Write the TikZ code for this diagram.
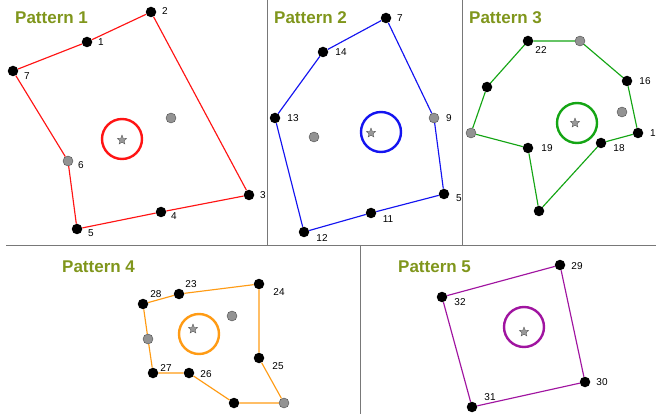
\documentclass[tikz,border=0pt]{standalone}
\usepackage{fontspec}
\setmainfont{Liberation Sans}
\usepackage{tikz}
\usetikzlibrary{shapes.geometric}
\usepackage{xcolor}
\definecolor{olivetitle}{RGB}{128,150,28}
\definecolor{panelgrey}{RGB}{120,120,120}
\definecolor{hullred}{RGB}{255,20,20}
\definecolor{hullblue}{RGB}{20,20,240}
\definecolor{hullgreen}{RGB}{20,165,20}
\definecolor{hullorange}{RGB}{255,155,20}
\definecolor{hullpurple}{RGB}{160,20,160}

\tikzset{
  blackdot/.style={circle,fill=black,inner sep=0pt,minimum size=10.5pt},
  greydot/.style={circle,fill=gray!85,draw=gray!60!black,line width=0.4pt,inner sep=0pt,minimum size=10pt},
  numlabel/.style={font=\fontsize{10}{11}\selectfont,inner sep=0pt},
  patterntitle/.style={font=\fontsize{17}{19}\selectfont\bfseries,text=olivetitle,inner sep=0pt,anchor=west},
  centrestar/.style={star,star points=5,star point ratio=2.3,fill=gray!80,draw=gray!60!black,line width=0.3pt,inner sep=0pt,minimum size=10pt},
  ring/.style={circle,line width=2.4pt,inner sep=0pt,minimum size=40pt},
  edge/.style={line width=1.15pt}
}

\begin{document}
\begin{tikzpicture}[x=1pt,y=-1pt]
        \useasboundingbox (0,0) rectangle (656,414);
        % Panel frames
        \draw[panelgrey,line width=0.8pt] (267,0) -- (267,245);
        \draw[panelgrey,line width=0.8pt] (462,0) -- (462,245);
        \draw[panelgrey,line width=0.8pt] (6,245) -- (656,245);
        \draw[panelgrey,line width=0.8pt] (360,245) -- (360,414);
        % Titles
        \node[patterntitle] (title1) at (15,18) {Pattern 1};
        \node[patterntitle] (title2) at (274,18) {Pattern 2};
        \node[patterntitle] (title3) at (469,18) {Pattern 3};
        \node[patterntitle] (title4) at (62,267) {Pattern 4};
        \node[patterntitle] (title5) at (398,267) {Pattern 5};

        % Pattern 1
        \node[blackdot] (a2) at (151,12) {};
        \node[blackdot] (a1) at (87,42) {};
        \node[blackdot] (a7) at (13,71) {};
        \node[greydot] (a6) at (68,161) {};
        \node[blackdot] (a5) at (77,229) {};
        \node[blackdot] (a4) at (161,212) {};
        \node[blackdot] (a3) at (249,195) {};
        \node[greydot] (ain) at (171,118) {};
        \draw[edge,hullred] (a7) -- (a1) -- (a2) -- (a3) -- (a4) -- (a5) -- (a6) -- (a7);
        \node[ring,draw=hullred] (ringa) at (122,139) {};
        \node[centrestar] (stara) at (122,140) {};
        \node[numlabel] (la2) at (165,11) {2};
        \node[numlabel] (la1) at (101,42) {1};
        \node[numlabel] (la7) at (27,76) {7};
        \node[numlabel] (la6) at (81,165) {6};
        \node[numlabel] (la5) at (91,233) {5};
        \node[numlabel] (la4) at (174,216) {4};
        \node[numlabel] (la3) at (263,195) {3};

        % Pattern 2
        \node[blackdot] (b7) at (386,18) {};
        \node[blackdot] (b14) at (323,52) {};
        \node[blackdot] (b13) at (275,118) {};
        \node[greydot] (bin) at (314,137) {};
        \node[greydot] (b9) at (434,118) {};
        \node[blackdot] (b5) at (444,194) {};
        \node[blackdot] (b11) at (371,213) {};
        \node[blackdot] (b12) at (304,232) {};
        \draw[edge,hullblue] (b7) -- (b14) -- (b13) -- (b12) -- (b11) -- (b5) -- (b9) -- (b7);
        \node[ring,draw=hullblue] (ringb) at (381,132) {};
        \node[centrestar] (starb) at (371,133) {};
        \node[numlabel] (lb7) at (400,18) {7};
        \node[numlabel] (lb14) at (341,52) {14};
        \node[numlabel] (lb13) at (293,118) {13};
        \node[numlabel] (lb9) at (449,118) {9};
        \node[numlabel] (lb5) at (459,198) {5};
        \node[numlabel] (lb11) at (388,219) {11};
        \node[numlabel] (lb12) at (322,238) {12};

        % Pattern 3
        \node[blackdot] (c22) at (528,41) {};
        \node[greydot] (ctop) at (580,41) {};
        \node[blackdot] (c16) at (627,81) {};
        \node[greydot] (cin) at (622,112) {};
        \node[blackdot] (c1) at (638,133) {};
        \node[blackdot] (c18) at (601,143) {};
        \node[blackdot] (cbot) at (539,211) {};
        \node[blackdot] (c19) at (528,148) {};
        \node[greydot] (cgl) at (471,133) {};
        \node[blackdot] (cbl) at (487,87) {};
        \draw[edge,hullgreen] (c22) -- (ctop) -- (c16) -- (c1) -- (c18) -- (cbot) -- (c19) -- (cgl) -- (cbl) -- (c22);
        \node[ring,draw=hullgreen] (ringc) at (577,123) {};
        \node[centrestar] (starc) at (575,123) {};
        \node[numlabel] (lc22) at (541,50) {22};
        \node[numlabel] (lc16) at (645,81) {16};
        \node[numlabel] (lc1) at (653,133) {1};
        \node[numlabel] (lc18) at (619,148) {18};
        \node[numlabel] (lc19) at (547,148) {19};

        % Pattern 4
        \node[blackdot] (d24) at (259,284) {};
        \node[blackdot] (d23) at (179,294) {};
        \node[blackdot] (d28) at (143,304) {};
        \node[greydot] (din) at (232,316) {};
        \node[greydot] (dgl) at (148,339) {};
        \node[blackdot] (d27) at (153,373) {};
        \node[blackdot] (d26) at (189,373) {};
        \node[blackdot] (dbot) at (234,403) {};
        \node[greydot] (dgr) at (284,403) {};
        \node[blackdot] (d25) at (259,358) {};
        \draw[edge,hullorange] (d28) -- (d23) -- (d24) -- (d25) -- (dgr) -- (dbot) -- (d26) -- (d27) -- (dgl) -- (d28);
        \node[ring,draw=hullorange] (ringd) at (199,334) {};
        \node[centrestar] (stard) at (193,329) {};
        \node[numlabel] (ld24) at (279,292) {24};
        \node[numlabel] (ld23) at (191,284) {23};
        \node[numlabel] (ld28) at (156,294) {28};
        \node[numlabel] (ld27) at (166,368) {27};
        \node[numlabel] (ld26) at (206,374) {26};
        \node[numlabel] (ld25) at (278,366) {25};

        % Pattern 5
        \node[blackdot] (e29) at (560,265) {};
        \node[blackdot] (e32) at (442,297) {};
        \node[blackdot] (e31) at (472,407) {};
        \node[blackdot] (e30) at (585,382) {};
        \draw[edge,hullpurple] (e29) -- (e30) -- (e31) -- (e32) -- (e29);
        \node[ring,draw=hullpurple] (ringe) at (524,327) {};
        \node[centrestar] (stare) at (524,332) {};
        \node[numlabel] (le29) at (577,266) {29};
        \node[numlabel] (le32) at (460,302) {32};
        \node[numlabel] (le31) at (490,397) {31};
        \node[numlabel] (le30) at (602,382) {30};
\end{tikzpicture}
\end{document}
